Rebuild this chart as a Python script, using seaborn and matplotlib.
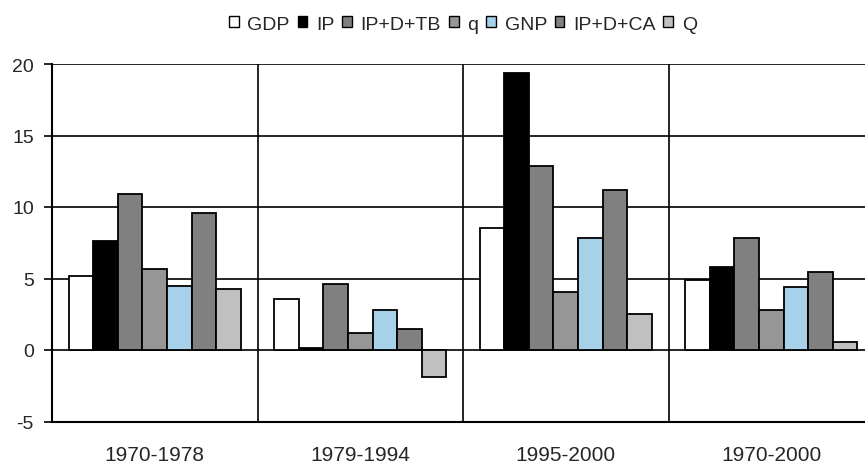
import numpy as np
import pandas as pd
import matplotlib.pyplot as plt
import seaborn as sns
from matplotlib.patches import Patch

# Dados
periodos = ['1970-1978', '1979-1994', '1995-2000', '1970-2000']
series = ['GDP', 'IP', 'IP+D+TB', 'q', 'GNP', 'IP+D+CA', 'Q']
gdp = [5.2, 3.55, 8.5, 4.9]
ip = [7.6, 0.15, 19.4, 5.8]
ip_d_tb = [10.9, 4.6, 12.9, 7.85]
q_min = [5.65, 1.2, 4.05, 2.8]
gnp = [4.5, 2.8, 7.8, 4.4]
ip_d_ca = [9.6, 1.45, 11.2, 5.45]
q_mai = [4.25, -1.9, 2.5, 0.55]

cores = ['#ffffff', '#000000', '#808080', '#969696', '#a6d1e8', '#808080', '#c0c0c0']

valores = [gdp, ip, ip_d_tb, q_min, gnp, ip_d_ca, q_mai]
df = pd.DataFrame({
    'Periodo': np.repeat([periodos], len(series), axis=0).ravel(),
    'Serie': np.repeat(series, len(periodos)),
    'Valor': np.concatenate(valores),
})

sns.set_style('white')
plt.rcParams['font.family'] = ['Liberation Sans', 'DejaVu Sans']

fig = plt.figure(figsize=(8.65, 4.64), dpi=100)
ax = fig.add_axes([52 / 865, 1 - 422.5 / 464, (874 - 52) / 865, (422.5 - 65) / 464])

sns.barplot(data=df, x='Periodo', y='Valor', hue='Serie', order=periodos, hue_order=series,
            palette=cores, width=0.835, edgecolor='black', linewidth=1.3, saturation=1,
            ax=ax, legend=False)

ax.set_ylim(-5, 20)
ax.set_xlim(-0.5, 3.5)
ax.set_yticks([-5, 0, 5, 10, 15, 20])
ax.set_yticklabels(['-5', '0', '5', '10', '15', '20'], fontsize=14)
ax.set_xticks(range(4))
ax.set_xticklabels(periodos, fontsize=15)
ax.tick_params(axis='x', length=0, pad=17)
ax.tick_params(axis='y', length=6, width=1.2, color='black', direction='out', left=True, pad=7)
ax.set_xlabel('')
ax.set_ylabel('')

# Linhas de grade e divisórias
for yv in [5, 10, 15, 20]:
    ax.axhline(yv, color='black', lw=1.2, zorder=0)
ax.axhline(0, color='black', lw=1.2, zorder=0.5)
for xv in [0.5, 1.5, 2.5]:
    ax.axvline(xv, color='black', lw=1.2, zorder=0)

for s in ['top', 'right']:
    ax.spines[s].set_visible(False)
for s in ['left', 'bottom']:
    ax.spines[s].set_color('black')
    ax.spines[s].set_linewidth(1.5)

# Legenda
handles = [Patch(facecolor=c, edgecolor='black', linewidth=1) for c in cores]
fig.legend(handles, series, loc='center', bbox_to_anchor=(463 / 865, 1 - 25 / 464), ncol=7,
           frameon=False, fontsize=14, handlelength=0.5, handleheight=0.5, handletextpad=0.45,
           columnspacing=0.4, borderaxespad=0)

fig.savefig('out.png', dpi=100)
